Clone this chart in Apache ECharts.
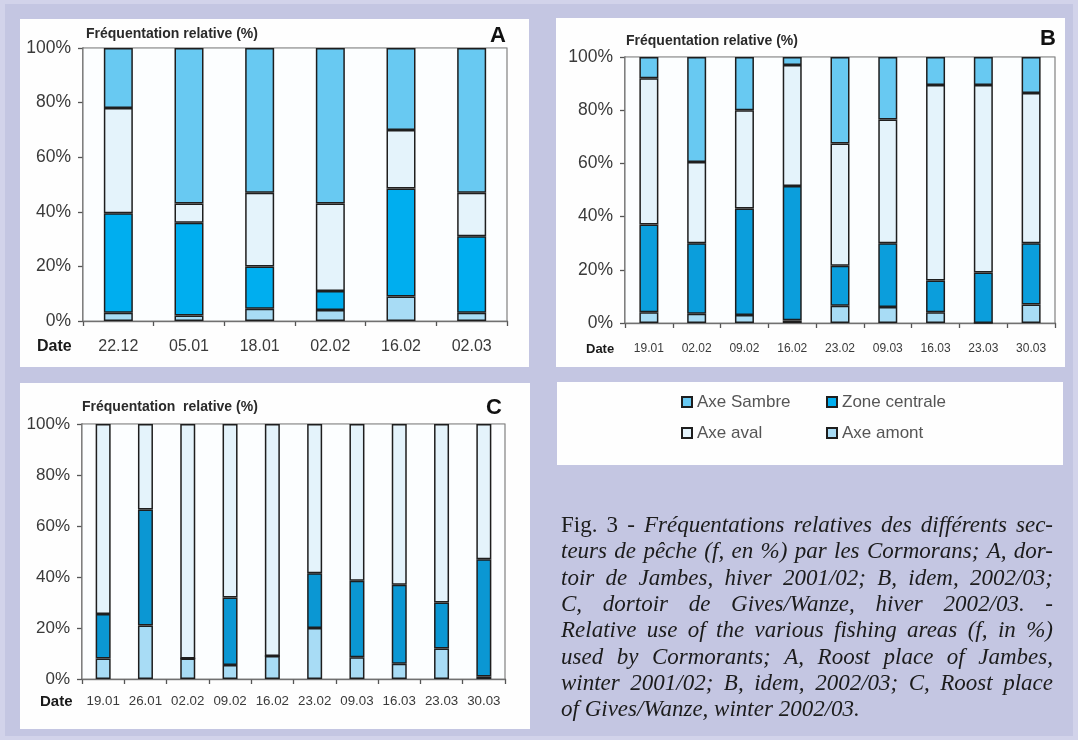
<!DOCTYPE html>
<html>
<head>
<meta charset="utf-8">
<script src="https://cdn.jsdelivr.net/npm/echarts@6/dist/echarts.min.js"></script>
<style>
html,body{margin:0;padding:0;background:#c4c6e2;}
#chart{width:1078px;height:740px;}
</style>
</head>
<body>
<div id="chart"></div>
<script>
// ---------- DATA ----------
const seriesNames = ['Axe amont', 'Zone centrale', 'Axe aval', 'Axe Sambre'];
const yTicks = [0, 20, 40, 60, 80, 100];

const datesA = ['22.12', '05.01', '18.01', '02.02', '16.02', '02.03'];
const amontA = [3, 2, 4.5, 4, 9, 3];
const centraleA = [36.5, 34, 15.5, 7, 39.5, 28];
const avalA = [38.5, 7, 27, 32, 21.5, 16];
const sambreA = [22, 57, 53, 57, 30, 53];

const datesB = ['19.01', '02.02', '09.02', '16.02', '23.02', '09.03', '16.03', '23.03', '30.03'];
const amontB = [4, 3.5, 3, 1, 6.5, 6, 4, 0, 7];
const centraleB = [33, 26.5, 40, 50.5, 15, 24, 12, 19, 23];
const avalB = [55, 30.5, 37, 45.5, 46, 46.5, 73.5, 70.5, 56.5];
const sambreB = [8, 39.5, 20, 3, 32.5, 23.5, 10.5, 10.5, 13.5];

const datesC = ['19.01', '26.01', '02.02', '09.02', '16.02', '23.02', '09.03', '16.03', '23.03', '30.03'];
const amontC = [8, 21, 8, 5.5, 9, 20, 8.5, 6, 12, 1];
const centraleC = [17.5, 45.5, 0, 26.5, 0, 21.5, 30, 31, 18, 46];
const avalC = [74.5, 33.5, 92, 68, 91, 58.5, 61.5, 63, 70, 53];

const yTitle = 'Fréquentation relative (%)';
const xTitle = 'Date';
const panelLetters = ['A', 'B', 'C'];

const captionLines = [
  [['Fig. 3 -', false], ['Fréquentations relatives des différents sec-', true]],
  [['teurs de pêche (f, en %) par les Cormorans; A, dor-', true]],
  [['toir de Jambes, hiver 2001/02; B, idem, 2002/03;', true]],
  [['C, dortoir de Gives/Wanze, hiver 2002/03.', true], ['-', false]],
  [['Relative use of the various fishing areas (f, in %)', true]],
  [['used by Cormorants; A, Roost place of Jambes,', true]],
  [['winter 2001/02; B, idem, 2002/03; C, Roost place', true]],
  [['of Gives/Wanze, winter 2002/03.', true]]
];

// ---------- STYLE ----------
const SANS = '"Liberation Sans", Arial, sans-serif';
const SERIF = '"Liberation Serif", "Times New Roman", serif';
const colAmont = '#a8dcf5';
const colAval = '#e4f3fb';
const colSambre = '#68c9f2';
const colCentrale = ['#00aeef', '#0b9edc', '#0b97d3'];
const BORDER = '#1e1e1e';

const chart = echarts.init(document.getElementById('chart'));

const grids = [
  {left: 83, top: 48, width: 424, height: 273},
  {left: 625, top: 57, width: 430, height: 266},
  {left: 82, top: 424, width: 423, height: 255}
];
const xFont = [16, 12, 13.3];
const xMargin = [18, 20, 16];
const yFont = [17.5, 17.5, 17];
const barW = [29, 19, 15];
const allDates = [datesA, datesB, datesC];

const gridOpts = grids.map(g => Object.assign({
  show: true, backgroundColor: '#fcfeff', borderColor: '#808080', borderWidth: 1.2, z: 1
}, g));

const xAxes = allDates.map((d, i) => ({
  type: 'category', gridIndex: i, data: d,
  axisLine: {lineStyle: {color: '#555', width: 1.5}},
  axisTick: {show: true, length: 5, interval: 0, lineStyle: {color: '#555', width: 1.3}},
  axisLabel: {interval: 0, fontFamily: SANS, fontSize: xFont[i], color: '#3a3a3a', margin: xMargin[i]}
}));

const yAxes = [0, 1, 2].map(i => ({
  type: 'value', gridIndex: i, min: yTicks[0], max: yTicks[yTicks.length - 1], interval: 20,
  axisLine: {show: true, lineStyle: {color: '#555', width: 1.5}},
  axisTick: {show: true, length: 5, lineStyle: {color: '#555', width: 1.3}},
  splitLine: {show: true, lineStyle: {color: '#8a8a8a', width: 1.3}},
  axisLabel: {fontFamily: SANS, fontSize: yFont[i], color: '#3a3a3a', margin: 12, formatter: '{value}%'}
}));

function bar(name, data, idx, color) {
  return {
    name: name, type: 'bar', stack: 'p' + idx, xAxisIndex: idx, yAxisIndex: idx,
    data: data, barWidth: barW[idx],
    itemStyle: {color: color, borderColor: BORDER, borderWidth: 1.5},
    emphasis: {disabled: true}, z: 3
  };
}

const series = [
  bar('Axe amont', amontA, 0, colAmont),
  bar('Zone centrale', centraleA, 0, colCentrale[0]),
  bar('Axe aval', avalA, 0, colAval),
  bar('Axe Sambre', sambreA, 0, colSambre),
  bar('Axe amont', amontB, 1, colAmont),
  bar('Zone centrale', centraleB, 1, colCentrale[1]),
  bar('Axe aval', avalB, 1, colAval),
  bar('Axe Sambre', sambreB, 1, colSambre),
  bar('Axe amont', amontC, 2, colAmont),
  bar('Zone centrale', centraleC, 2, colCentrale[2]),
  bar('Axe aval', avalC, 2, colAval)
];

// ---------- GRAPHIC ----------
const graphic = [];
graphic.push({type: 'rect', shape: {x: 0, y: 0, width: 1078, height: 740}, style: {fill: '#d2d3ea'}, z: -20, silent: true});
graphic.push({type: 'rect', shape: {x: 5, y: 4, width: 1068, height: 732}, style: {fill: '#c4c6e2'}, z: -19, silent: true});
const panels = [
  {x: 20, y: 19, w: 509, h: 348},
  {x: 556, y: 18, w: 509, h: 349},
  {x: 20, y: 383, w: 510, h: 346},
  {x: 557, y: 382, w: 506, h: 83}
];
panels.forEach(p => graphic.push({type: 'rect', shape: {x: p.x, y: p.y, width: p.w, height: p.h}, style: {fill: '#fefefe'}, z: -10, silent: true}));

// titles
const titlePos = [
  {x: 86, y: 34, ls: 0, fs: 14, letter: {x: 506, y: 36}, date: {x: 37, y: 347, fs: 16}},
  {x: 626, y: 41, ls: 1.1, fs: 14, letter: {x: 1056, y: 39}, date: {x: 586, y: 349, fs: 13}},
  {x: 82, y: 407, ls: 1.0, fs: 14, letter: {x: 502, y: 408}, date: {x: 40, y: 702, fs: 15}}
];
const titleTexts = [yTitle, yTitle, yTitle.replace(' ', '  ')];
titlePos.forEach((t, i) => {
  graphic.push({type: 'text', x: t.x, y: t.y, z: 10, silent: true,
    style: {text: titleTexts[i], font: 'bold ' + t.fs + 'px ' + SANS, fill: '#2a2a2a', verticalAlign: 'middle', textAlign: 'left', letterSpacing: t.ls}});
  graphic.push({type: 'text', x: t.letter.x, y: t.letter.y, z: 10, silent: true,
    style: {text: panelLetters[i], font: 'bold 22px ' + SANS, fill: '#111', verticalAlign: 'middle', textAlign: 'right'}});
  graphic.push({type: 'text', x: t.date.x, y: t.date.y, z: 10, silent: true,
    style: {text: xTitle, font: 'bold ' + t.date.fs + 'px ' + SANS, fill: '#1a1a1a', verticalAlign: 'middle', textAlign: 'left'}});
});

// caption (justified)
const mctx = document.createElement('canvas').getContext('2d');
const CAP_FS = 23;
const capLeft = 561, capWidth = 492, capTop = 526, capStep = 26.3;
function capFont(it) { return (it ? 'italic ' : '') + CAP_FS + 'px ' + SERIF; }
captionLines.forEach((line, li) => {
  const words = [];
  line.forEach(seg => seg[0].split(' ').forEach(w => { if (w) words.push({t: w, it: seg[1]}); }));
  words.forEach(w => { mctx.font = capFont(w.it); w.w = mctx.measureText(w.t).width; });
  const total = words.reduce((s, w) => s + w.w, 0);
  const last = li === captionLines.length - 1;
  mctx.font = capFont(true);
  const gap = last ? mctx.measureText(' ').width : (capWidth - total) / (words.length - 1);
  let x = capLeft;
  const y = capTop + li * capStep;
  words.forEach(w => {
    graphic.push({type: 'text', x: x, y: y, z: 10, silent: true,
      style: {text: w.t, font: capFont(w.it), fill: '#1c1c1c', verticalAlign: 'middle', textAlign: 'left'}});
    x += w.w + gap;
  });
});

const legendBase = {
  orient: 'vertical', itemWidth: 10, itemHeight: 10, itemGap: 11, padding: 0,
  icon: 'rect', selectedMode: false,
  textStyle: {fontFamily: SANS, fontSize: 17, color: '#555', lineHeight: 20}
};

chart.setOption({
  animation: false,
  backgroundColor: '#c4c6e2',
  grid: gridOpts,
  xAxis: xAxes,
  yAxis: yAxes,
  series: series,
  legend: [
    Object.assign({left: 681, top: 392, data: ['Axe Sambre', 'Axe aval']}, legendBase),
    Object.assign({left: 826, top: 392, data: ['Zone centrale', 'Axe amont']}, legendBase)
  ],
  graphic: graphic
});
</script>
</body>
</html>
